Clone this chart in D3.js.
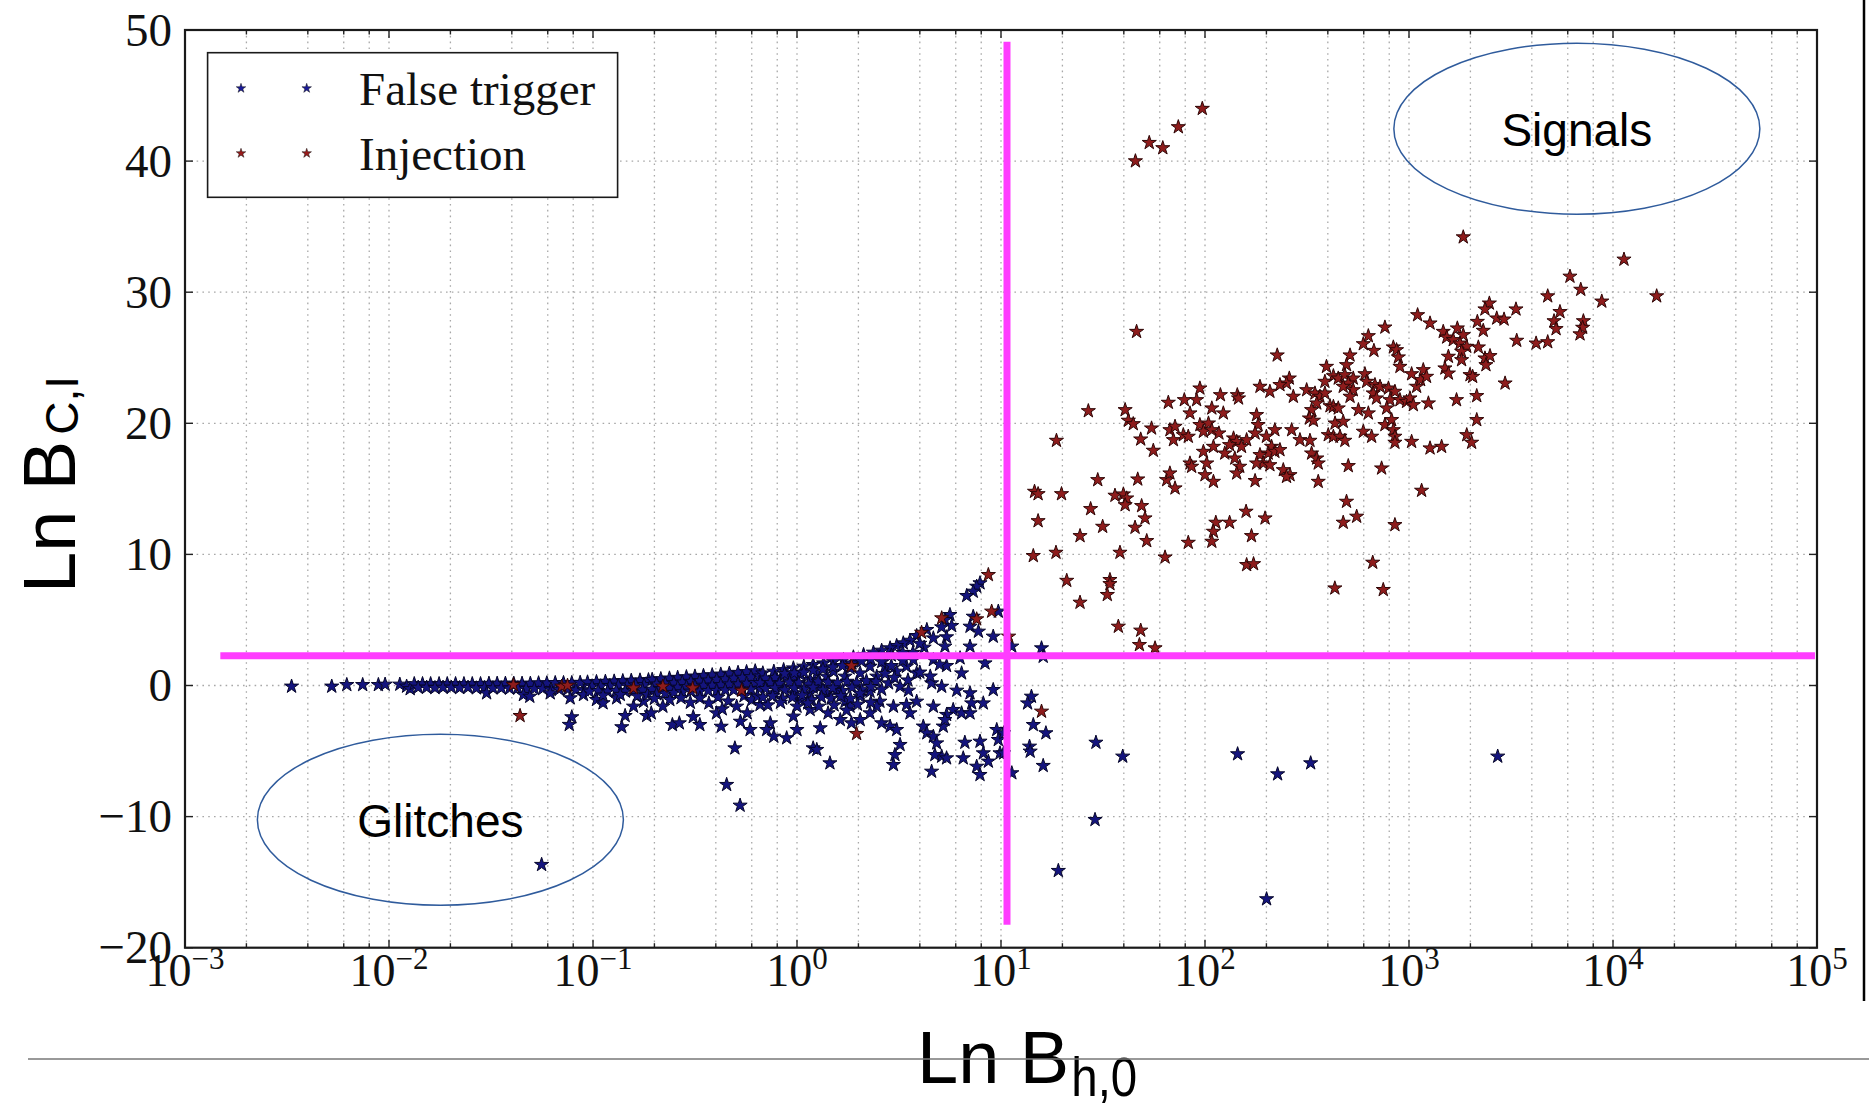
<!DOCTYPE html>
<html><head><meta charset="utf-8">
<script src="https://cdn.jsdelivr.net/npm/d3@7"></script>
<style>html,body{margin:0;padding:0;background:#fff;overflow:hidden}svg{display:block}</style>
</head><body>
<svg id="chart" width="1869" height="1107"></svg>
<script>
// ---------------- DATA ----------------
const seriesNames = ["False trigger", "Injection"];

// False trigger points: [B_h0, lnB_CI]
const falseTrigger = [
[0.00333,-0.07],[0.00524,-0.07],[0.00621,0.05],[0.00743,0.05],[0.00887,0.05],[0.00957,0.08],[0.0113,0.08],[0.0122,-0.07],[0.0127,-0.26],
[0.0133,0.12],[0.0146,0.12],[0.0160,0.12],[0.0176,0.12],[0.0193,0.12],[0.0212,0.12],[0.0233,0.12],[0.0256,0.12],[0.0281,0.12],[0.0309,0.15],[0.0339,0.15],[0.0372,0.15],[0.0409,0.15],[0.0449,0.15],[0.0493,0.15],[0.0541,0.18],[0.0594,0.18],[0.0653,0.2],[0.0717,0.2],[0.0787,0.2],[0.0865,0.22],
[0.0139,-0.15],[0.0153,-0.15],[0.0168,-0.18],[0.0184,-0.15],[0.0202,-0.15],[0.0222,-0.18],[0.0244,-0.15],[0.0268,-0.2],[0.0294,-0.18],[0.0301,-0.58],[0.0323,-0.2],[0.0355,-0.2],[0.0390,-0.22],[0.0428,-0.2],[0.0470,-0.25],[0.0516,-0.25],[0.0567,-0.25],[0.0622,-0.3],[0.0683,-0.3],[0.0750,-0.3],[0.0824,-0.35],[0.0905,-0.35],
[0.0456,-0.71],[0.049,-0.84],[0.0617,-0.58],[0.0773,-0.96],[0.0898,-0.71],[0.104,-1.09],[0.112,-1.34],[0.1306,-0.96],[0.158,-1.6],[0.177,-1.22],
[0.094,0.25],[0.104,0.28],[0.115,0.3],[0.127,0.32],[0.140,0.35],[0.154,0.38],[0.170,0.4],[0.187,0.42],
[0.099,-0.05],[0.109,-0.05],[0.121,-0.02],[0.133,0.0],[0.147,0.0],[0.162,0.02],[0.178,0.05],
[0.096,-0.45],[0.106,-0.4],[0.118,-0.45],[0.130,-0.4],[0.144,-0.45],[0.158,-0.4],[0.175,-0.35],
[0.112,-0.75],[0.136,-0.7],[0.165,-0.8],[0.185,-0.7],
[0.0787,-2.41],[0.0765,-2.99],[0.1384,-3.17],[0.1437,-2.31],[0.1834,-2.31],
[0.195,0.45],[0.215,0.5],[0.237,0.55],[0.26,0.6],[0.287,0.65],[0.316,0.7],[0.348,0.75],[0.384,0.8],[0.423,0.85],[0.466,0.92],[0.514,0.98],[0.566,1.04],[0.624,1.1],
[0.205,0.1],[0.226,0.15],[0.249,0.2],[0.274,0.25],[0.302,0.3],[0.333,0.35],[0.367,0.4],[0.404,0.45],[0.445,0.5],[0.49,0.55],[0.54,0.6],[0.595,0.65],[0.656,0.7],
[0.195,-0.3],[0.215,-0.25],[0.237,-0.2],[0.26,-0.15],[0.287,-0.1],[0.316,-0.05],[0.348,0.0],[0.384,0.0],[0.423,0.05],[0.466,0.1],[0.514,0.1],[0.566,0.15],[0.624,0.2],
[0.205,-0.65],[0.226,-0.6],[0.249,-0.55],[0.274,-0.5],[0.302,-0.45],[0.333,-0.45],[0.367,-0.4],[0.404,-0.4],[0.445,-0.35],[0.49,-0.35],[0.54,-0.3],[0.595,-0.3],[0.656,-0.25],
[0.2,-1.0],[0.238,-1.09],[0.27,-0.95],[0.3,-1.3],[0.334,-0.96],[0.37,-1.35],[0.41,-0.9],[0.46,-1.2],[0.506,-1.6],[0.55,-0.8],[0.6,-1.1],[0.64,-0.84],
[0.193,-2.11],[0.22,-1.6],[0.245,-3.0],[0.265,-2.87],[0.334,-3.0],[0.31,-2.4],[0.403,-2.11],[0.425,-3.13],[0.496,-4.78],[0.452,-7.57],[0.528,-2.75],[0.589,-3.38],[0.659,-1.47],[0.57,-2.11],[0.526,-9.15],[0.43,-1.8],[0.056,-13.67],
[7.89,7.81],[7.6,7.55],[7.31,7.17],[6.79,6.84],[5.62,5.39],[5.31,5.01],[5.73,4.55],[5.12,4.45],[4.33,4.25],[3.86,3.79],[3.58,3.43],[3.32,3.23],[3.08,3.03],[2.86,2.85],[2.6,2.67],[2.37,2.52],[2.12,2.34],[1.89,2.16],[1.69,1.96],[1.51,1.83],[1.35,1.7],[1.2,1.58],[1.08,1.45],[0.96,1.32],[0.86,1.19],[0.77,1.07],[0.68,0.94],
[7.31,5.26],[7.05,4.5],[7.75,4.12],[9.16,3.74],[9.7,5.65],[5.41,3.69],[4.66,3.61],[5.31,2.98],[7.05,2.98],
[8.35,1.7],[6.41,0.94],[5.41,1.5],[4.66,1.96],[3.72,1.96],[3.44,1.45],[3.86,0.94],[3.08,1.07],[2.7,1.45],[2.46,0.69],[2.81,0.18],[3.2,-0.08],[3.52,-0.38],[4.57,0.18],[5.12,-0.08],[6.07,-0.38],[7.05,-0.58],[9.16,-0.33],[8.19,-1.35],[7.18,-1.35],[5.83,-1.85],[5.41,-2.23],[4.66,-1.6],[3.86,-1.22],[3.44,-1.47],[2.97,-1.6],[2.55,-1.22],[2.46,-1.6],[2.28,-0.46],[2.04,-0.84],[1.72,-1.22],[1.82,-1.6],[1.56,-0.33],[1.4,-0.58],[1.3,-0.08],[1.16,-0.58],[1.04,-1.09],[0.96,-0.58],[0.83,-0.08],[0.77,-0.58],[0.71,0.18],
[2.04,0.94],[1.72,0.69],[1.4,0.69],[1.16,0.43],[0.96,0.69],[0.8,0.43],[2.28,1.45],[1.82,1.32],[1.51,1.07],[1.25,0.94],[1.04,0.82],[0.89,0.69],[6.3,2.09],
[0.74,-2.87],[0.71,-3.38],[0.77,-3.89],[0.89,-4.01],[1.0,-3.38],[1.3,-3.25],[1.2,-4.78],[1.25,-4.9],[1.45,-5.92],[0.96,-2.36],[1.16,-1.85],[1.42,-2.11],[1.63,-2.62],[1.85,-2.87],[2.04,-2.62],[2.28,-2.11],[2.6,-2.87],[2.86,-3.12],[3.08,-3.38],[3.2,-4.52],[3.02,-5.29],[2.97,-6.05],[3.58,-2.11],[4.16,-3.12],[4.33,-3.63],[4.66,-3.89],[4.84,-4.4],[5.12,-5.41],[5.41,-5.54],[4.74,-5.29],[4.57,-6.56],[5.21,-3.12],[5.31,-2.62],[6.41,-2.11],[7.05,-2.11],[6.65,-4.35],[6.53,-5.54],[7.89,-4.27],[8.19,-5.16],[8.67,-5.79],[7.6,-6.18],[7.89,-6.81],[9.53,-3.38],[9.7,-4.14],[9.89,-5.16],
[0.70,0.55],[0.78,0.6],[0.87,0.9],[0.97,0.95],[1.08,1.0],[1.2,1.15],[1.34,1.25],[1.5,1.4],[1.67,1.5],[1.86,1.7],[2.07,1.85],[2.3,2.0],
[0.66,0.2],[0.74,0.2],[0.82,0.15],[0.92,0.25],[1.02,0.2],[1.14,0.1],[1.27,0.3],[1.42,0.25],[1.58,0.2],[1.76,0.3],[1.96,0.2],[2.19,0.35],[2.44,0.3],
[0.70,-0.25],[0.78,-0.2],[0.87,-0.35],[0.97,-0.2],[1.08,-0.3],[1.2,-0.15],[1.34,-0.35],[1.5,-0.2],[1.67,-0.4],[1.86,-0.15],[2.07,-0.3],[2.3,-0.1],[2.6,-0.3],
[0.68,-0.9],[0.76,-0.8],[0.85,-1.0],[0.95,-0.9],[1.06,-0.75],[1.18,-1.1],[1.32,-0.9],[1.47,-1.0],[1.64,-0.8],[1.83,-1.0],[2.04,-0.6],
[0.72,-1.5],[0.83,-1.3],[1.0,-1.6],[1.13,-1.35],[1.28,-1.6],[1.52,-1.5],[1.75,-1.9],[1.98,-1.45],[2.3,-1.3],
[2.6,1.8],[2.9,1.5],[3.3,1.9],[3.7,2.5],[4.2,2.9],[3.0,0.6],[3.5,0.4],[4.0,1.0],[4.5,0.7],[2.7,0.9],[5.0,1.6],[3.3,2.5],[2.9,2.3],[4.0,3.2],
[15.8,2.85],[16.1,2.21],[11.3,2.98],[14.1,-0.84],[13.5,-1.35],[14.4,-3.0],[16.6,-3.63],[13.8,-4.65],[13.9,-5.03],[16.1,-6.12],[29.2,-4.35],[39.5,-5.41],[144.5,-5.23],[227,-6.76],[329.6,-5.92],[2722,-5.41],[28.9,-10.24],[19.1,-14.13],[200.4,-16.29],[11.3,-6.68],[10.3,-3.63],[10.3,-5.16]
];

// Injection points: [B_h0, lnB_CI]
const injection = [
[45.6,40.0],[53.3,41.4],[62.1,41.0],[74.0,42.6],[97.0,44.0],
[1845,34.2],[11320,32.5],[6152,31.2],[6950,30.2],[4786,29.7],[16370,29.7],[8810,29.3],[5495,28.5],[5140,27.8],[7160,27.8],[5260,27.2],[7100,27.3],[6890,26.8],[4198,26.1],[4786,26.2],
[46.2,26.99],[1102,28.26],[1268,27.63],[762,27.32],[632,26.66],[597,26.05],[673,25.54],[838,25.8],[869,25.59],[887,25.04],[903,24.32],
[2477,29.15],[2357,28.7],[3345,28.7],[2692,28.01],[2924,27.93],[2163,27.75],[2312,27.07],[1472,26.99],[1726,27.25],[1531,26.56],[1648,26.36],[1845,26.74],[1778,26.1],[1919,25.85],[1811,25.47],[1560,25.09],[1811,24.83],[2188,25.8],[2357,24.96],[2495,25.14],[2383,24.45],[1500,24.2],[1560,23.81],[1991,23.69],[2051,23.56],[2958,23.05],[3373,26.31],
[226,25.19],[514,25.19],[494,24.45],[394,24.32],[426,23.61],[450,23.43],[485,23.69],[533,23.43],[504,23.05],[476,22.8],[533,22.54],[514,22.04],[608,23.76],[620,23.18],[681,22.93],[721,22.8],[668,22.29],[693,21.91],[793,22.67],[853,22.42],[807,21.78],[777,21.15],[903,21.78],[973,21.65],[1011,21.91],[1050,21.4],[1090,22.8],[1140,23.31],[1175,24.07],[1219,23.56],[1030,23.76],[1245,21.53],[1710,21.78],[2148,22.09],[2148,20.26],[1919,19.11],[2028,18.53],
[259,23.43],[251,23.05],[233,22.93],[271,22.04],[315,22.54],[346,22.29],[366,22.04],[387,22.29],[353,21.53],[387,23.18],[410,21.32],[426,21.27],[450,21.15],[333,21.02],[325,20.38],[340,20.21],[434,20.0],[476,20.13],[402,19.11],[426,18.99],[459,18.99],[485,18.68],[565,21.02],[632,20.77],[597,19.37],[656,18.99],[762,19.88],[822,20.26],[838,19.49],[853,18.99],[853,18.53],[1030,18.6],[1268,18.1],[1445,18.22],[734,16.57],[1153,14.87],
[186,22.8],[208,22.42],[179,20.64],[182,19.88],[176,19.24],[220,19.49],[266,19.49],[292,18.73],[327,18.68],[333,17.71],[353,17.33],[359,16.95],[359,15.55],[504,16.75],
[66.1,21.58],[79.2,21.78],[91.0,21.78],[94.4,22.67],[119,22.16],[144,22.16],[146,21.91],[108,21.15],[123,20.77],[84.4,20.77],[54.7,19.62],[67.3,19.49],[71.3,19.75],[70.0,18.73],[78.3,19.11],[82.8,18.99],[94.4,19.88],[104,20.0],[98.2,19.37],[108,19.49],[117,19.24],[98.2,17.84],[110,18.22],[138,18.86],[143,18.6],[160,18.73],[151,18.22],[132,18.35],[125,17.71],[140,17.33],[148,16.7],
[200,18.99],[212,18.22],[204,17.71],[220,17.84],[233,17.97],[186,17.59],[193,16.95],[208,16.82],[179,16.95],[242,16.44],[261,16.06],[251,15.93],[84.4,16.95],[86.0,16.7],[102,16.95],[100,16.06],[110,15.55],[143,16.19],[176,15.61],
[26.8,20.94],[40.6,21.02],[42.1,20.21],[44.5,19.95],[18.7,18.68],[48.4,18.78],[55.8,17.92],
[29.8,15.68],[46.8,15.73],[64.9,15.68],[67.3,16.19],[71.3,15.05],
[14.6,14.79],[15.2,14.61],[19.8,14.61],[36.2,14.49],[39.8,14.59],[41.3,14.28],[40.6,13.77],[48.9,13.7],[27.5,13.47],[15.2,12.55],[50.8,12.76],[31.5,12.12],[24.4,11.41],[45.4,12.05],[51.8,11.03],
[159,13.27],[113,12.43],[132,12.43],[197,12.76],[110,11.74],[169,11.41],[108,10.98],[82.8,10.9],
[494,14.03],[476,12.43],[554,12.89],[853,12.25],
[14.4,9.89],[18.6,10.14],[38.3,10.14],[63.7,9.78],[160,9.2],[173,9.27],[664,9.38],
[21.0,8.0],[34.2,8.06],[34.2,7.75],[33.2,6.92],[24.4,6.33],[433,7.42],[748,7.3],[37.6,4.5],[48.4,4.2],[47.7,3.1],[56.9,2.85],[10.9,3.74],[15.8,-1.98],
[8.67,8.44],[9.0,5.65],[7.6,5.06],[5.12,5.14],[4.08,4.04],[1.85,1.5],[1.96,-3.68],
[0.22,-0.07],[0.308,-0.2],[0.535,-0.38],
[0.0407,0.05],[0.0703,-0.07],[0.075,0.0],[0.158,-0.2],[0.0439,-2.31]
];

// Axis tick definitions
const xTickExponents = [-3, -2, -1, 0, 1, 2, 3, 4, 5];
const xMinorSubs = [2, 4, 6, 8];
const yTicks = [-20, -10, 0, 10, 20, 30, 40, 50];

// Threshold lines (data values)
const thresholdX = 10.7;
const thresholdXExtent = [-18.25, 49.1];
const thresholdY = 2.26;
const thresholdYExtent = [0.00149, 97700];

// Region annotations
const regionNames = ["Signals", "Glitches"];
const regionCenters = [[6650, 42.47], [0.01786, -10.24]];

// ---------------- DRAW ----------------
const W = 1869, H = 1107;
const L = 185, R = 1817, T = 30, B = 947.7;
const svg = d3.select("#chart");
const x = d3.scaleLog().domain([1e-3, 1e5]).range([L, R]);
const y = d3.scaleLinear().domain([-20, 50]).range([B, T]);

const serif = "'Liberation Serif','Times New Roman',Times,serif";
const sans = "'Liberation Sans',Arial,Helvetica,sans-serif";

// grid
const gridXVals = [];
xTickExponents.forEach(e => {
  gridXVals.push(Math.pow(10, e));
  if (e < 5) xMinorSubs.forEach(s => gridXVals.push(s * Math.pow(10, e)));
});
const gGrid = svg.append("g");
gGrid.selectAll("line.gx").data(gridXVals.filter(v => v > 1.0001e-3 && v < 0.9999e5)).join("line")
  .attr("x1", d => x(d)).attr("x2", d => x(d)).attr("y1", T).attr("y2", B)
  .attr("stroke", "#a8a8a8").attr("stroke-width", 1.3).attr("stroke-dasharray", "1.6,4.2");
gGrid.selectAll("line.gy").data(yTicks.filter(v => v > -20 && v < 50)).join("line")
  .attr("x1", L).attr("x2", R).attr("y1", d => y(d)).attr("y2", d => y(d))
  .attr("stroke", "#a8a8a8").attr("stroke-width", 1.3).attr("stroke-dasharray", "1.6,4.2");

// ticks (inward)
const gTicks = svg.append("g").attr("stroke", "#222").attr("stroke-width", 1.4);
const majorX = xTickExponents.map(e => Math.pow(10, e));
const minorX = gridXVals.filter(v => !majorX.includes(v));
[[majorX, 8], [minorX, 4.5]].forEach(([vals, len]) => {
  vals.forEach(v => {
    gTicks.append("line").attr("x1", x(v)).attr("x2", x(v)).attr("y1", B).attr("y2", B - len);
    gTicks.append("line").attr("x1", x(v)).attr("x2", x(v)).attr("y1", T).attr("y2", T + len);
  });
});
yTicks.forEach(v => {
  gTicks.append("line").attr("x1", L).attr("x2", L + 8).attr("y1", y(v)).attr("y2", y(v));
  gTicks.append("line").attr("x1", R).attr("x2", R - 8).attr("y1", y(v)).attr("y2", y(v));
});

// points
const star = d3.symbol().type(d3.symbolStar).size(62);
const gPts = svg.append("g");
gPts.selectAll("path.ft").data(falseTrigger).join("path")
  .attr("transform", d => `translate(${x(d[0])},${y(d[1])})`)
  .attr("d", star).attr("fill", "#14147e").attr("stroke", "#06062a").attr("stroke-width", 1);
gPts.selectAll("path.inj").data(injection).join("path")
  .attr("transform", d => `translate(${x(d[0])},${y(d[1])})`)
  .attr("d", star).attr("fill", "#8e1c1c").attr("stroke", "#2e0606").attr("stroke-width", 1);

// frame
svg.append("rect").attr("x", L).attr("y", T).attr("width", R - L).attr("height", B - T)
  .attr("fill", "none").attr("stroke", "#1a1a1a").attr("stroke-width", 2.2);

// tick labels
const fmtNum = v => v < 0 ? "\u2212" + (-v) : String(v);
xTickExponents.forEach(e => {
  const t = svg.append("text").attr("x", x(Math.pow(10, e))).attr("y", 986)
    .attr("text-anchor", "middle").attr("font-family", serif).attr("font-size", 46).attr("fill", "#111");
  t.append("tspan").text("10");
  t.append("tspan").attr("dy", -17).attr("font-size", 31).text(fmtNum(e));
});
yTicks.forEach(v => {
  svg.append("text").attr("x", 172).attr("y", y(v)).attr("dy", "0.33em")
    .attr("text-anchor", "end").attr("font-family", serif).attr("font-size", 47).attr("fill", "#111")
    .text(fmtNum(v));
});

// threshold lines
const magenta = "#ff3cff";
svg.append("line").attr("x1", x(thresholdX)).attr("x2", x(thresholdX))
  .attr("y1", y(thresholdXExtent[1])).attr("y2", y(thresholdXExtent[0]))
  .attr("stroke", magenta).attr("stroke-width", 7);
svg.append("line").attr("x1", x(thresholdYExtent[0])).attr("x2", x(thresholdYExtent[1]))
  .attr("y1", y(thresholdY)).attr("y2", y(thresholdY))
  .attr("stroke", magenta).attr("stroke-width", 7);

// region ellipses
regionNames.forEach((name, i) => {
  const cx = x(regionCenters[i][0]), cy = y(regionCenters[i][1]);
  svg.append("ellipse").attr("cx", cx).attr("cy", cy).attr("rx", 183).attr("ry", 85.5)
    .attr("fill", "none").attr("stroke", "#2f5b9c").attr("stroke-width", 1.5);
  svg.append("text").attr("x", cx).attr("y", cy + 17).attr("text-anchor", "middle")
    .attr("font-family", sans).attr("font-size", 46).attr("fill", "#000").text(name);
});

// legend
const lg = svg.append("g");
lg.append("rect").attr("x", 207.6).attr("y", 52.7).attr("width", 410).attr("height", 144.6)
  .attr("fill", "#fff").attr("stroke", "#1a1a1a").attr("stroke-width", 1.6);
const legendColors = ["#1a1a9a", "#9a1c1c"];
const smallStar = d3.symbol().type(d3.symbolStar).size(28);
seriesNames.forEach((name, i) => {
  const yy = 88.3 + i * 65;
  [241, 306.7].forEach(xx => {
    lg.append("path").attr("transform", `translate(${xx},${yy})`).attr("d", smallStar)
      .attr("fill", legendColors[i]).attr("stroke", "#111").attr("stroke-width", 0.5);
  });
  lg.append("text").attr("x", 359).attr("y", yy + 16.5).attr("font-family", serif)
    .attr("font-size", 47).attr("fill", "#111").text(name);
});

// axis labels
const xl = svg.append("text").attr("x", 917).attr("y", 1083).attr("font-family", sans)
  .attr("font-size", 74).attr("fill", "#000").text("Ln B");
const xlw = xl.node().getComputedTextLength();
svg.append("text").attr("x", 917 + xlw + 2).attr("y", 1096).attr("font-family", sans)
  .attr("font-size", 56).attr("textLength", 66).attr("lengthAdjust", "spacingAndGlyphs")
  .attr("fill", "#000").text("h,0");

const yg = svg.append("g").attr("transform", "translate(75,593) rotate(-90)");
const yl = yg.append("text").attr("x", 0).attr("y", 0).attr("font-family", sans)
  .attr("font-size", 74).attr("fill", "#000").text("Ln B");
const ylw = yl.node().getComputedTextLength();
yg.append("text").attr("x", ylw + 6).attr("y", 3).attr("font-family", sans)
  .attr("font-size", 46).attr("fill", "#000").text("C,I");

// slide decorations
svg.append("line").attr("x1", 28).attr("x2", W).attr("y1", 1059).attr("y2", 1059)
  .attr("stroke", "#777").attr("stroke-width", 1.5);
svg.append("line").attr("x1", 1864).attr("x2", 1864).attr("y1", 0).attr("y2", 1001)
  .attr("stroke", "#000").attr("stroke-width", 2.5);
</script>
</body></html>
